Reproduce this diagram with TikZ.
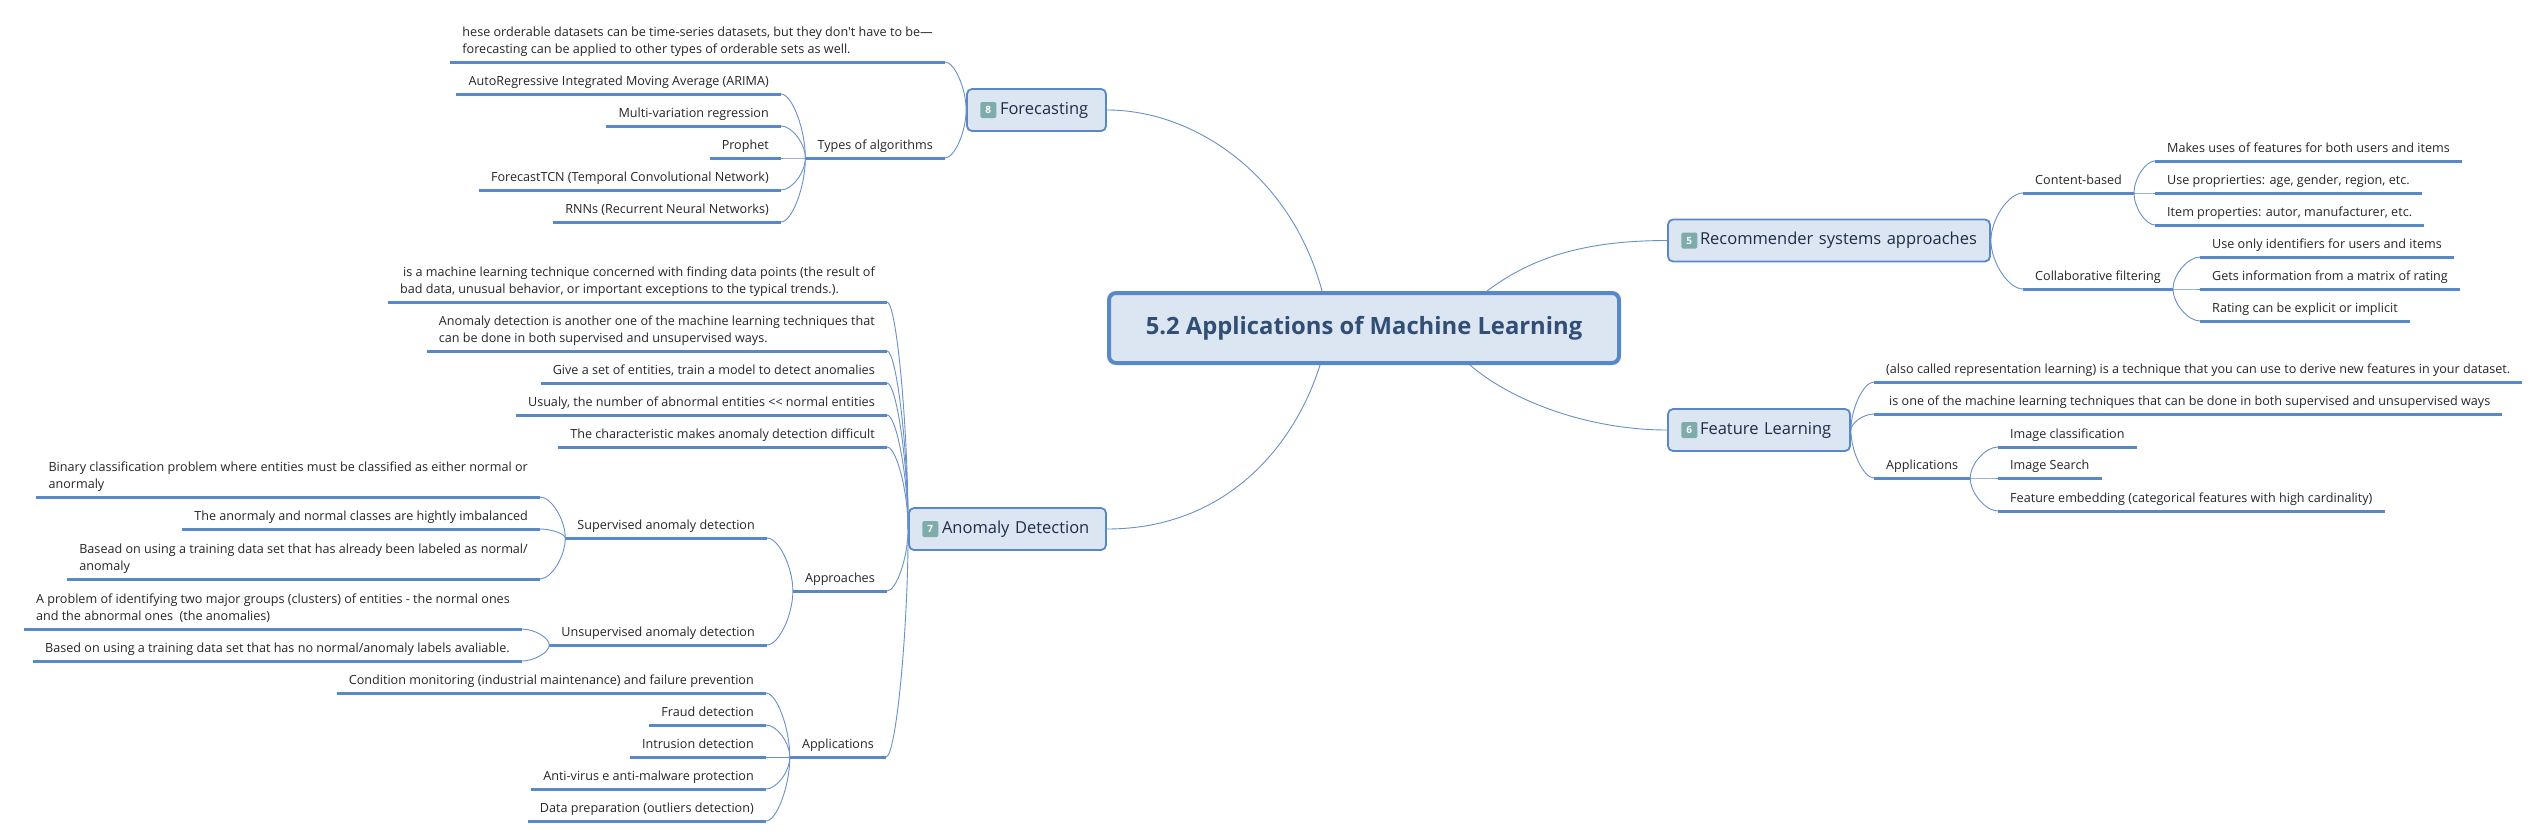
\documentclass[tikz,border=0pt]{standalone}
\usepackage{fontspec}
\newfontfamily\mapfont{Open Sans}
\usetikzlibrary{positioning, calc}

\definecolor{ulblue}{RGB}{86,136,202}
\definecolor{linkblue}{RGB}{104,144,204}
\definecolor{topicfill}{RGB}{220,230,242}
\definecolor{topicline}{RGB}{88,136,200}
\definecolor{topictext}{RGB}{30,45,70}
\definecolor{roottext}{RGB}{48,78,118}
\definecolor{badgeteal}{RGB}{125,172,170}

\tikzset{
  link/.style={draw=linkblue, line width=0.9pt,
    to path={.. controls ($(\tikztostart)!0.45!(\tikztostart |- \tikztotarget)$) and ($(\tikztotarget)!0.45!(\tikztostart |- \tikztotarget)$) .. (\tikztotarget)}},
  leaf/.style={font=\mapfont\fontsize{12.6}{17}\selectfont, text=black!85, inner xsep=12pt, inner ysep=5pt, text depth=3pt, align=left,
    append after command={(\tikzlastnode.south west) edge[draw=ulblue, line width=3pt] (\tikzlastnode.south east)}},
  leftleaf/.style={leaf, anchor=south east},
  rightleaf/.style={leaf, anchor=south west},
  topic/.style={draw=topicline, line width=1.8pt, fill=topicfill, rounded corners=5pt, minimum height=42pt, inner xsep=0pt, inner ysep=0pt, text=topictext, font=\mapfont\fontsize{16.5}{18}\selectfont, align=left},
  badge/.style={fill=badgeteal, rounded corners=1.5pt, text=white, font=\mapfont\bfseries\fontsize{10}{10}\selectfont, minimum width=16pt, minimum height=16pt, inner sep=0pt},
}

\begin{document}
\begin{tikzpicture}[x=1pt, y=-1pt]
\fill[white] (0,0) rectangle (2545,838);
\useasboundingbox (0,0) rectangle (2545,838);

\node[draw=topicline, line width=4pt, fill=topicfill, rounded corners=7pt, minimum width=510pt, minimum height=70pt, text=roottext, font=\mapfont\bfseries\fontsize{23.8}{26}\selectfont] (root) at (1364,328) {5.2 Applications of Machine Learning};

\node[topic, text width=139pt] (fc) at (1036.5,110) {\hspace*{33pt}Forecasting};
\node[badge, right=14pt of fc.west] (fcnum) {8};
\node[topic, text width=197pt] (ad) at (1007.5,529) {\hspace*{33pt}Anomaly Detection};
\node[badge, right=14pt of ad.west] (adnum) {7};
\node[topic, text width=322pt] (rs) at (1829,240.5) {\hspace*{32pt}Recommender systems approaches};
\node[badge, right=14pt of rs.west] (rsnum) {5};
\node[topic, text width=182pt] (fl) at (1759,430) {\hspace*{32pt}Feature Learning};
\node[badge, right=14pt of fl.west] (flnum) {6};

\draw[draw=linkblue, line width=0.9pt] ([xshift=-42pt]root.north) .. controls +(-30,-113) and +(90,0) .. (fc.east);
\draw[draw=linkblue, line width=0.9pt] ([xshift=123pt]root.north) .. controls +(40,-30) and +(-90,0) .. (rs.west);
\draw[draw=linkblue, line width=0.9pt] ([xshift=-44pt]root.south) .. controls +(-25,80) and +(120,0) .. (ad.east);
\draw[draw=linkblue, line width=0.9pt] ([xshift=106pt]root.south) .. controls +(40,35) and +(-80,0) .. (fl.west);

% Forecasting
\node[leftleaf] (fdef) at (945,62) {hese orderable datasets can be time-series datasets, but they don't have to be—\\forecasting can be applied to other types of orderable sets as well.};
\node[leftleaf] (ftypes) at (945,158) {Types of algorithms};
\node[leftleaf] (farima) at (781,94) {AutoRegressive Integrated Moving Average (ARIMA)};
\node[leftleaf] (fmulti) at (781,126) {Multi-variation regression};
\node[leftleaf] (fprophet) at (781,158) {Prophet};
\node[leftleaf] (ftcn) at (781,190) {ForecastTCN (Temporal Convolutional Network)};
\node[leftleaf] (frnn) at (781,222) {RNNs (Recurrent Neural Networks)};

\draw[link] (fc.west) to (fdef.south east);
\draw[link] (fc.west) to (ftypes.south east);
\draw[link] (ftypes.south west) to (farima.south east);
\draw[link] (ftypes.south west) to (fmulti.south east);
\draw[link] (ftypes.south west) to (fprophet.south east);
\draw[link] (ftypes.south west) to (ftcn.south east);
\draw[link] (ftypes.south west) to (frnn.south east);

% Anomaly Detection
\node[leftleaf] (adef) at (887,302) {\hspace*{3pt}is a machine learning technique concerned with finding data points (the result of\\bad data, unusual behavior, or important exceptions to the typical trends.).};
\node[leftleaf] (aboth) at (887,351) {Anomaly detection is another one of the machine learning techniques that\\can be done in both supervised and unsupervised ways.};
\node[leftleaf] (agive) at (887,383) {Give a set of entities, train a model to detect anomalies};
\node[leftleaf] (ausual) at (887,415) {Usualy, the number of abnormal entities << normal entities};
\node[leftleaf] (achar) at (887,447) {The characteristic makes anomaly detection difficult};
\node[leftleaf] (aappr) at (887,591) {Approaches};
\node[leftleaf] (asup) at (767,538) {Supervised anomaly detection};
\node[leftleaf] (aunsup) at (767,645) {Unsupervised anomaly detection};
\node[leftleaf] (abinary) at (540,497) {Binary classification problem where entities must be classified as either normal or\\anormaly};
\node[leftleaf] (aimbal) at (540,529) {The anormaly and normal classes are hightly imbalanced};
\node[leftleaf] (alabeled) at (540,579) {Basead on using a training data set that has already been labeled as normal/\\anomaly};
\node[leftleaf] (aclusters) at (522,629) {A problem of identifying two major groups (clusters) of entities - the normal ones\\and the abnormal ones\ \ (the anomalies)};
\node[leftleaf] (anolabels) at (522,661) {Based on using a training data set that has no normal/anomaly labels avaliable.};
\node[leftleaf] (aapps) at (886,757) {Applications};
\node[leftleaf] (acond) at (766,693) {Condition monitoring (industrial maintenance) and failure prevention};
\node[leftleaf] (afraud) at (766,725) {Fraud detection};
\node[leftleaf] (aintr) at (766,757) {Intrusion detection};
\node[leftleaf] (avirus) at (766,789) {Anti-virus e anti-malware protection};
\node[leftleaf] (aprep) at (766,821) {Data preparation (outliers detection)};

\draw[link] (ad.west) to (adef.south east);
\draw[link] (ad.west) to (aboth.south east);
\draw[link] (ad.west) to (agive.south east);
\draw[link] (ad.west) to (ausual.south east);
\draw[link] (ad.west) to (achar.south east);
\draw[link] (ad.west) to (aappr.south east);
\draw[link] (ad.west) to (aapps.south east);
\draw[link] (aappr.south west) to (asup.south east);
\draw[link] (aappr.south west) to (aunsup.south east);
\draw[link] (asup.south west) to (abinary.south east);
\draw[link] (asup.south west) to (aimbal.south east);
\draw[link] (asup.south west) to (alabeled.south east);
\draw[link] (aunsup.south west) to (aclusters.south east);
\draw[link] (aunsup.south west) to (anolabels.south east);
\draw[link] (aapps.south west) to (acond.south east);
\draw[link] (aapps.south west) to (afraud.south east);
\draw[link] (aapps.south west) to (aintr.south east);
\draw[link] (aapps.south west) to (avirus.south east);
\draw[link] (aapps.south west) to (aprep.south east);

% Recommender systems
\node[rightleaf] (rcontent) at (2023,193) {Content-based};
\node[rightleaf] (rcollab) at (2023,289) {Collaborative filtering};
\node[rightleaf] (rfeat) at (2155,161) {Makes uses of features for both users and items};
\node[rightleaf] (rprop) at (2155,193) {Use proprierties: age, gender, region, etc.};
\node[rightleaf] (ritem) at (2155,225) {Item properties: autor, manufacturer, etc.};
\node[rightleaf] (rids) at (2200,257) {Use only identifiers for users and items};
\node[rightleaf] (rmatrix) at (2200,289) {Gets information from a matrix of rating};
\node[rightleaf] (rrating) at (2200,321) {Rating can be explicit or implicit};

\draw[link] (rs.east) to (rcontent.south west);
\draw[link] (rs.east) to (rcollab.south west);
\draw[link] (rcontent.south east) to (rfeat.south west);
\draw[link] (rcontent.south east) to (rprop.south west);
\draw[link] (rcontent.south east) to (ritem.south west);
\draw[link] (rcollab.south east) to (rids.south west);
\draw[link] (rcollab.south east) to (rmatrix.south west);
\draw[link] (rcollab.south east) to (rrating.south west);

% Feature Learning
\node[rightleaf] (lrep) at (1874,382) {(also called representation learning) is a technique that you can use to derive new features in your dataset.};
\node[rightleaf] (lboth) at (1874,414) {\hspace*{3pt}is one of the machine learning techniques that can be done in both supervised and unsupervised ways};
\node[rightleaf] (lapps) at (1874,478) {Applications};
\node[rightleaf] (lclass) at (1998,447) {Image classification};
\node[rightleaf] (lsearch) at (1998,478) {Image Search};
\node[rightleaf] (lembed) at (1998,511) {Feature embedding (categorical features with high cardinality)};

\draw[link] (fl.east) to (lrep.south west);
\draw[link] (fl.east) to (lboth.south west);
\draw[link] (fl.east) to (lapps.south west);
\draw[link] (lapps.south east) to (lclass.south west);
\draw[link] (lapps.south east) to (lsearch.south west);
\draw[link] (lapps.south east) to (lembed.south west);

\end{tikzpicture}
\end{document}
